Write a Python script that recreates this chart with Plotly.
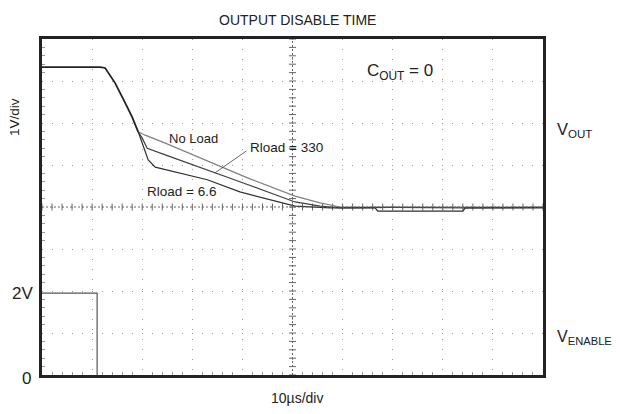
import numpy as np
import plotly.graph_objects as go

# Data in scope divisions (x: 10 us/div, y: 1 V/div)
common_x = [0.0, 1.16, 1.26, 1.46, 1.66, 1.80, 1.92]
common_y = [7.33, 7.33, 7.31, 6.95, 6.48, 6.14, 5.79]

noload_x = [1.92, 2.06, 2.46, 4.15, 5.05, 5.55, 5.95, 7.0, 8.5, 10.0]
noload_y = [5.79, 5.71, 5.52, 4.67, 4.26, 4.10, 4.00, 4.00, 4.01, 4.00]

r330_x = [1.92, 2.00, 2.10, 2.46, 3.95, 5.05, 5.55, 5.95, 7.0, 8.5, 10.0]
r330_y = [5.79, 5.64, 5.40, 5.24, 4.60, 4.12, 4.02, 3.98, 3.99, 3.98, 3.99]

r66_x = [1.92, 2.02, 2.12, 2.26, 3.30, 3.95, 5.05, 5.75, 6.65, 6.70, 8.40, 8.45, 10.0]
r66_y = [5.79, 5.43, 5.12, 4.95, 4.65, 4.36, 4.02, 3.98, 3.98, 3.90, 3.90, 3.98, 3.98]

enable_x = [0.0, 1.10, 1.10]
enable_y = [1.95, 1.95, 0.0]

fig = go.Figure()

# centre cross (dotted with minor tick marks)
minor = np.arange(0, 10.001, 0.2)
minor_y = np.arange(0, 8.001, 0.2)
fig.add_shape(type="line", x0=5, x1=5, y0=0, y1=8, line=dict(color="#666", width=1, dash="2px,2px"))
fig.add_shape(type="line", x0=0, x1=10, y0=4, y1=4, line=dict(color="#666", width=1, dash="2px,2px"))
fig.add_trace(go.Scatter(x=minor, y=[4] * len(minor), mode="markers",
                         marker=dict(symbol="line-ns", size=5, line=dict(color="#666", width=1)),
                         hoverinfo="skip", showlegend=False))
fig.add_trace(go.Scatter(x=[5] * len(minor_y), y=minor_y, mode="markers",
                         marker=dict(symbol="line-ew", size=5, line=dict(color="#666", width=1)),
                         hoverinfo="skip", showlegend=False))

line_style = dict(width=1.2)
fig.add_trace(go.Scatter(x=noload_x, y=noload_y, mode="lines", line=dict(color="#808080", **line_style), showlegend=False))
fig.add_trace(go.Scatter(x=r330_x, y=r330_y, mode="lines", line=dict(color="#404040", **line_style), showlegend=False))
fig.add_trace(go.Scatter(x=r66_x, y=r66_y, mode="lines", line=dict(color="#303030", **line_style), showlegend=False))
fig.add_trace(go.Scatter(x=common_x, y=common_y, mode="lines", line=dict(color="#222", width=1.8), showlegend=False))
fig.add_trace(go.Scatter(x=enable_x, y=enable_y, mode="lines", line=dict(color="#555", width=1.2), showlegend=False))

font = "Liberation Sans, Arial, Helvetica, sans-serif"
axis_common = dict(showgrid=True, gridcolor="#999", griddash="1px,9px", gridwidth=1,
                   zeroline=False, showticklabels=False, ticks="", showline=True,
                   linecolor="#222", linewidth=3, mirror=True, fixedrange=True,
                   minor=dict(ticks="inside", ticklen=3, tickcolor="#999", showgrid=False))
fig.update_xaxes(range=[0, 10], dtick=1, **axis_common)
fig.update_yaxes(range=[0, 8], dtick=1, **axis_common)
fig.update_xaxes(minor_dtick=0.2)
fig.update_yaxes(minor_dtick=0.2)

ann = []
def txt(x, y, s, size, ref="x", xanchor="center", yanchor="middle", **kw):
    ann.append(dict(x=x, y=y, text=s,
                    xref="x" if ref == "x" else "paper", yref="y" if ref == "x" else "paper",
                    showarrow=False, xanchor=xanchor, yanchor=yanchor,
                    font=dict(size=size, color="#222", family=font), **kw))

# texts outside the plot area (paper coordinates)
txt(0.509, 1.057, "OUTPUT DISABLE TIME", 14, ref="paper")
txt(0.509, -0.068, "10µs/div", 14, ref="paper")
txt(-0.054, 0.768, "1V/div", 13.5, ref="paper", textangle=-90)
txt(-0.014, 0.244, "2V", 17, ref="paper", xanchor="right")
txt(-0.018, -0.009, "0", 17, ref="paper", xanchor="right")
txt(1.024, 0.729, "V<sub>OUT</sub>", 16.5, ref="paper", xanchor="left")
txt(1.024, 0.113, "V<sub>ENABLE</sub>", 16, ref="paper", xanchor="left")
# texts inside the plot (data coordinates)
txt(6.45, 7.22, "C<sub>OUT</sub> = 0", 17, xanchor="left")
txt(2.49, 5.64, "No Load", 13, xanchor="left")
txt(2.06, 4.36, "Rload = 6.6", 13.5, xanchor="left")
txt(4.11, 5.42, "Rload = 330", 13.5, xanchor="left")
ann.append(dict(x=3.45, y=4.81, xref="x", yref="y", ax=4.11, ay=5.36, axref="x", ayref="y",
                showarrow=True, arrowhead=0, arrowwidth=0.8, arrowcolor="#444", text=""))

# page body has an 8px margin: offset the figure margins so the plot frame lands at 42..543 / 39..375
fig.update_layout(width=620, height=414, margin=dict(l=34, r=85, t=31, b=47),
                  paper_bgcolor="white", plot_bgcolor="white", annotations=ann,
                  font=dict(family=font))

fig.write_html("out.html")
